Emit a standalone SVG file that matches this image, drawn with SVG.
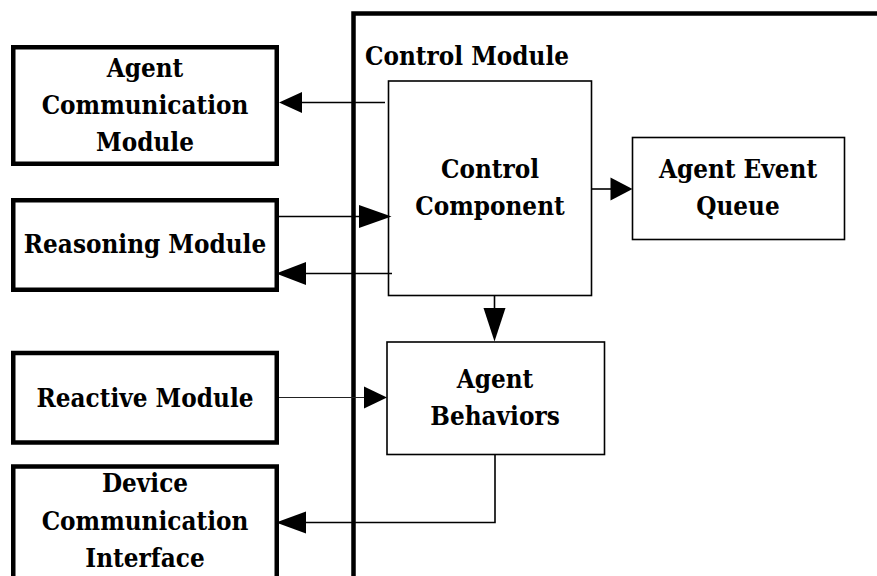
<svg xmlns="http://www.w3.org/2000/svg" width="877" height="576" viewBox="0 0 877 576">
<style>
.thick{fill:#fff;stroke:#000;stroke-width:4.5}
.thin{fill:#fff;stroke:#000;stroke-width:1.6}
.frame{fill:none;stroke:#000;stroke-width:4.5}
.ln{fill:none;stroke:#000;stroke-width:1.6}
.ln2{fill:none;stroke:#222;stroke-width:1.1}
.ah{fill:#000;stroke:none}
.t{font-family:'DejaVu Serif Condensed','DejaVu Serif',serif;font-weight:700;font-size:25.8px;fill:#000;text-anchor:middle}
</style>
<rect width="877" height="576" fill="#fff"/>
<g id="control-module">
<path class="frame" d="M353.5,580 V13.5 H880"/>
<text class="t" x="365" y="65" text-anchor="start" style="text-anchor:start">Control Module</text>
</g>
<g id="agent-communication-module">
<rect class="thick" x="13.25" y="47.25" width="263.5" height="116.5"/>
<text class="t" x="145" y="76.5">Agent</text>
<text class="t" x="145" y="113.5">Communication</text>
<text class="t" x="145" y="150.5">Module</text>
</g>
<g id="reasoning-module">
<rect class="thick" x="13.25" y="200.25" width="263.5" height="89.5"/>
<text class="t" x="145" y="253">Reasoning Module</text>
</g>
<g id="reactive-module">
<rect class="thick" x="13.25" y="353" width="263.5" height="89.5"/>
<text class="t" x="145" y="406.5">Reactive Module</text>
</g>
<g id="device-communication-interface">
<rect class="thick" x="13.25" y="466.5" width="263.5" height="150"/>
<text class="t" x="145" y="492">Device</text>
<text class="t" x="145" y="529.5">Communication</text>
<text class="t" x="145" y="567">Interface</text>
</g>
<g id="control-component">
<rect class="thin" x="388.5" y="81" width="203" height="214.5"/>
<text class="t" x="490" y="177.5">Control</text>
<text class="t" x="490" y="214.5">Component</text>
</g>
<g id="agent-event-queue">
<rect class="thin" x="632.5" y="137.5" width="212" height="102"/>
<text class="t" x="738" y="177.5">Agent Event</text>
<text class="t" x="738" y="214.5">Queue</text>
</g>
<g id="agent-behaviors">
<rect class="thin" x="387" y="342" width="217.5" height="112.5"/>
<text class="t" x="495" y="388">Agent</text>
<text class="t" x="495" y="425">Behaviors</text>
</g>
<g id="connectors">
<line class="ln" x1="385" y1="102.5" x2="300" y2="102.5"/>
<polygon class="ah" points="279,102.5 302,92 302,113"/>
<line class="ln" x1="279" y1="216.5" x2="361" y2="216.5"/>
<polygon class="ah" points="391.5,216.5 359,205 359,228"/>
<line class="ln" x1="392" y1="273.5" x2="304" y2="273.5"/>
<polygon class="ah" points="276,273.5 306,262 306,285"/>
<line class="ln" x1="591.5" y1="189" x2="612" y2="189"/>
<polygon class="ah" points="632.5,189 610.5,177.5 610.5,200.5"/>
<line class="ln" x1="494.5" y1="295.5" x2="494.5" y2="310"/>
<polygon class="ah" points="494.5,341.5 483.5,308 505.5,308"/>
<line class="ln2" x1="279" y1="397.5" x2="366" y2="397.5"/>
<polygon class="ah" points="387,397.5 364,386.5 364,408.5"/>
<polyline class="ln" points="495,454.5 495,522.5 304,522.5"/>
<polygon class="ah" points="276,522.5 306,511.5 306,533.5"/>
</g>
</svg>
